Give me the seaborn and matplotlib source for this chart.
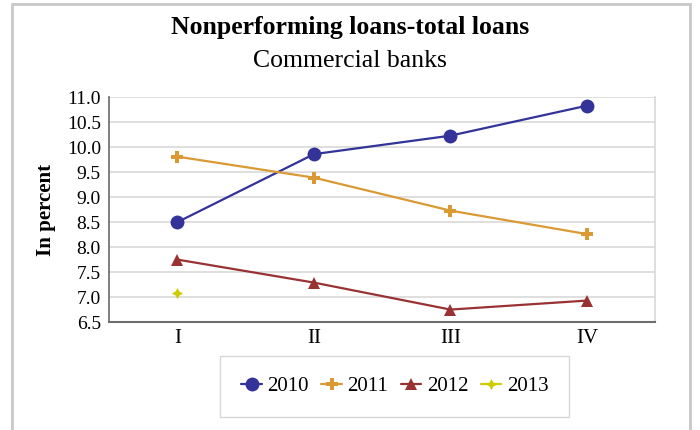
import pandas as pd
import matplotlib.pyplot as plt
import seaborn as sns
from matplotlib.patches import Rectangle

# data
quarters = ['I', 'II', 'III', 'IV']
years = ['2010', '2011', '2012', '2013']
npl_2010 = [8.50, 9.86, 10.23, 10.83]
npl_2011 = [9.81, 9.39, 8.73, 8.26]
npl_2012 = [7.75, 7.29, 6.75, 6.93]
npl_2013 = [7.08]

colors = {'2010': '#333399', '2011': '#D99A33', '2012': '#993333', '2013': '#CCCC00'}
markers = {'2010': 'o', '2011': 'P', '2012': '^', '2013': (4, 1, 0)}
sizes = {'2010': 10, '2011': 8, '2012': 9, '2013': 8}

series = {'2010': npl_2010, '2011': npl_2011, '2012': npl_2012, '2013': npl_2013}
rows = []
for yr, vals in series.items():
    for q, v in zip(quarters, vals):
        rows.append({'quarter': q, 'value': v, 'year': yr})
df = pd.DataFrame(rows)
df['quarter'] = pd.Categorical(df['quarter'], categories=quarters, ordered=True)

sns.set_theme(style='white')
plt.rcParams['font.family'] = ['Liberation Serif', 'DejaVu Serif']
plt.rcParams['text.color'] = 'black'
plt.rcParams['axes.labelcolor'] = 'black'

fig = plt.figure(figsize=(7, 4.3), dpi=100)
ax = fig.add_axes([0.156, 0.251, 0.78, 0.523])

for yr in years:
    sub = df[df['year'] == yr].copy()
    sub['x'] = sub['quarter'].cat.codes
    sns.lineplot(data=sub, x='x', y='value', ax=ax, color=colors[yr],
                 marker=markers[yr], markersize=sizes[yr], markeredgewidth=0,
                 linewidth=1.6, label=yr, legend=False)

ax.set_xlim(-0.5, 3.5)
ax.set_ylim(6.5, 11.0)
ax.set_xticks(range(len(quarters)))
ax.set_xticklabels(quarters)
ax.set_yticks([6.5 + 0.5 * i for i in range(10)])
ax.set_yticklabels([f'{6.5 + 0.5 * i:.1f}' for i in range(10)])
ax.tick_params(axis='y', length=0, labelsize=14, colors='black', pad=6)
ax.tick_params(axis='x', length=0, labelsize=15, colors='black', pad=5)
ax.yaxis.grid(True, color='#D9D9D9', linewidth=1.2)
ax.set_xlabel('')
ax.set_ylabel('In percent', fontsize=15, fontweight='bold', labelpad=8)
ax.spines['top'].set_visible(False)
ax.spines['right'].set_color('#D9D9D9')
ax.spines['left'].set_color('#6E6E6E')
ax.spines['bottom'].set_color('#6E6E6E')
ax.spines['bottom'].set_linewidth(1.5)

fig.text(0.5, 0.935, 'Nonperforming loans-total loans', ha='center', va='center',
         fontsize=18.5, fontweight='bold')
fig.text(0.5, 0.858, 'Commercial banks', ha='center', va='center', fontsize=18.5)

handles, labels = ax.get_legend_handles_labels()
fig.legend(handles, labels, loc='center', bbox_to_anchor=(0.564, 0.102), ncol=4,
           frameon=True, fancybox=False, edgecolor='#CCCCCC', fontsize=15,
           borderpad=1.0, handlelength=1.0, handletextpad=0.25, columnspacing=0.6)

fig.patches.append(Rectangle((12 / 700, -0.1), (690 - 12) / 700, 1.1 - 4 / 430,
                             transform=fig.transFigure, fill=False,
                             edgecolor='#C8C8C8', linewidth=2))

fig.savefig('out.png', dpi=100)
